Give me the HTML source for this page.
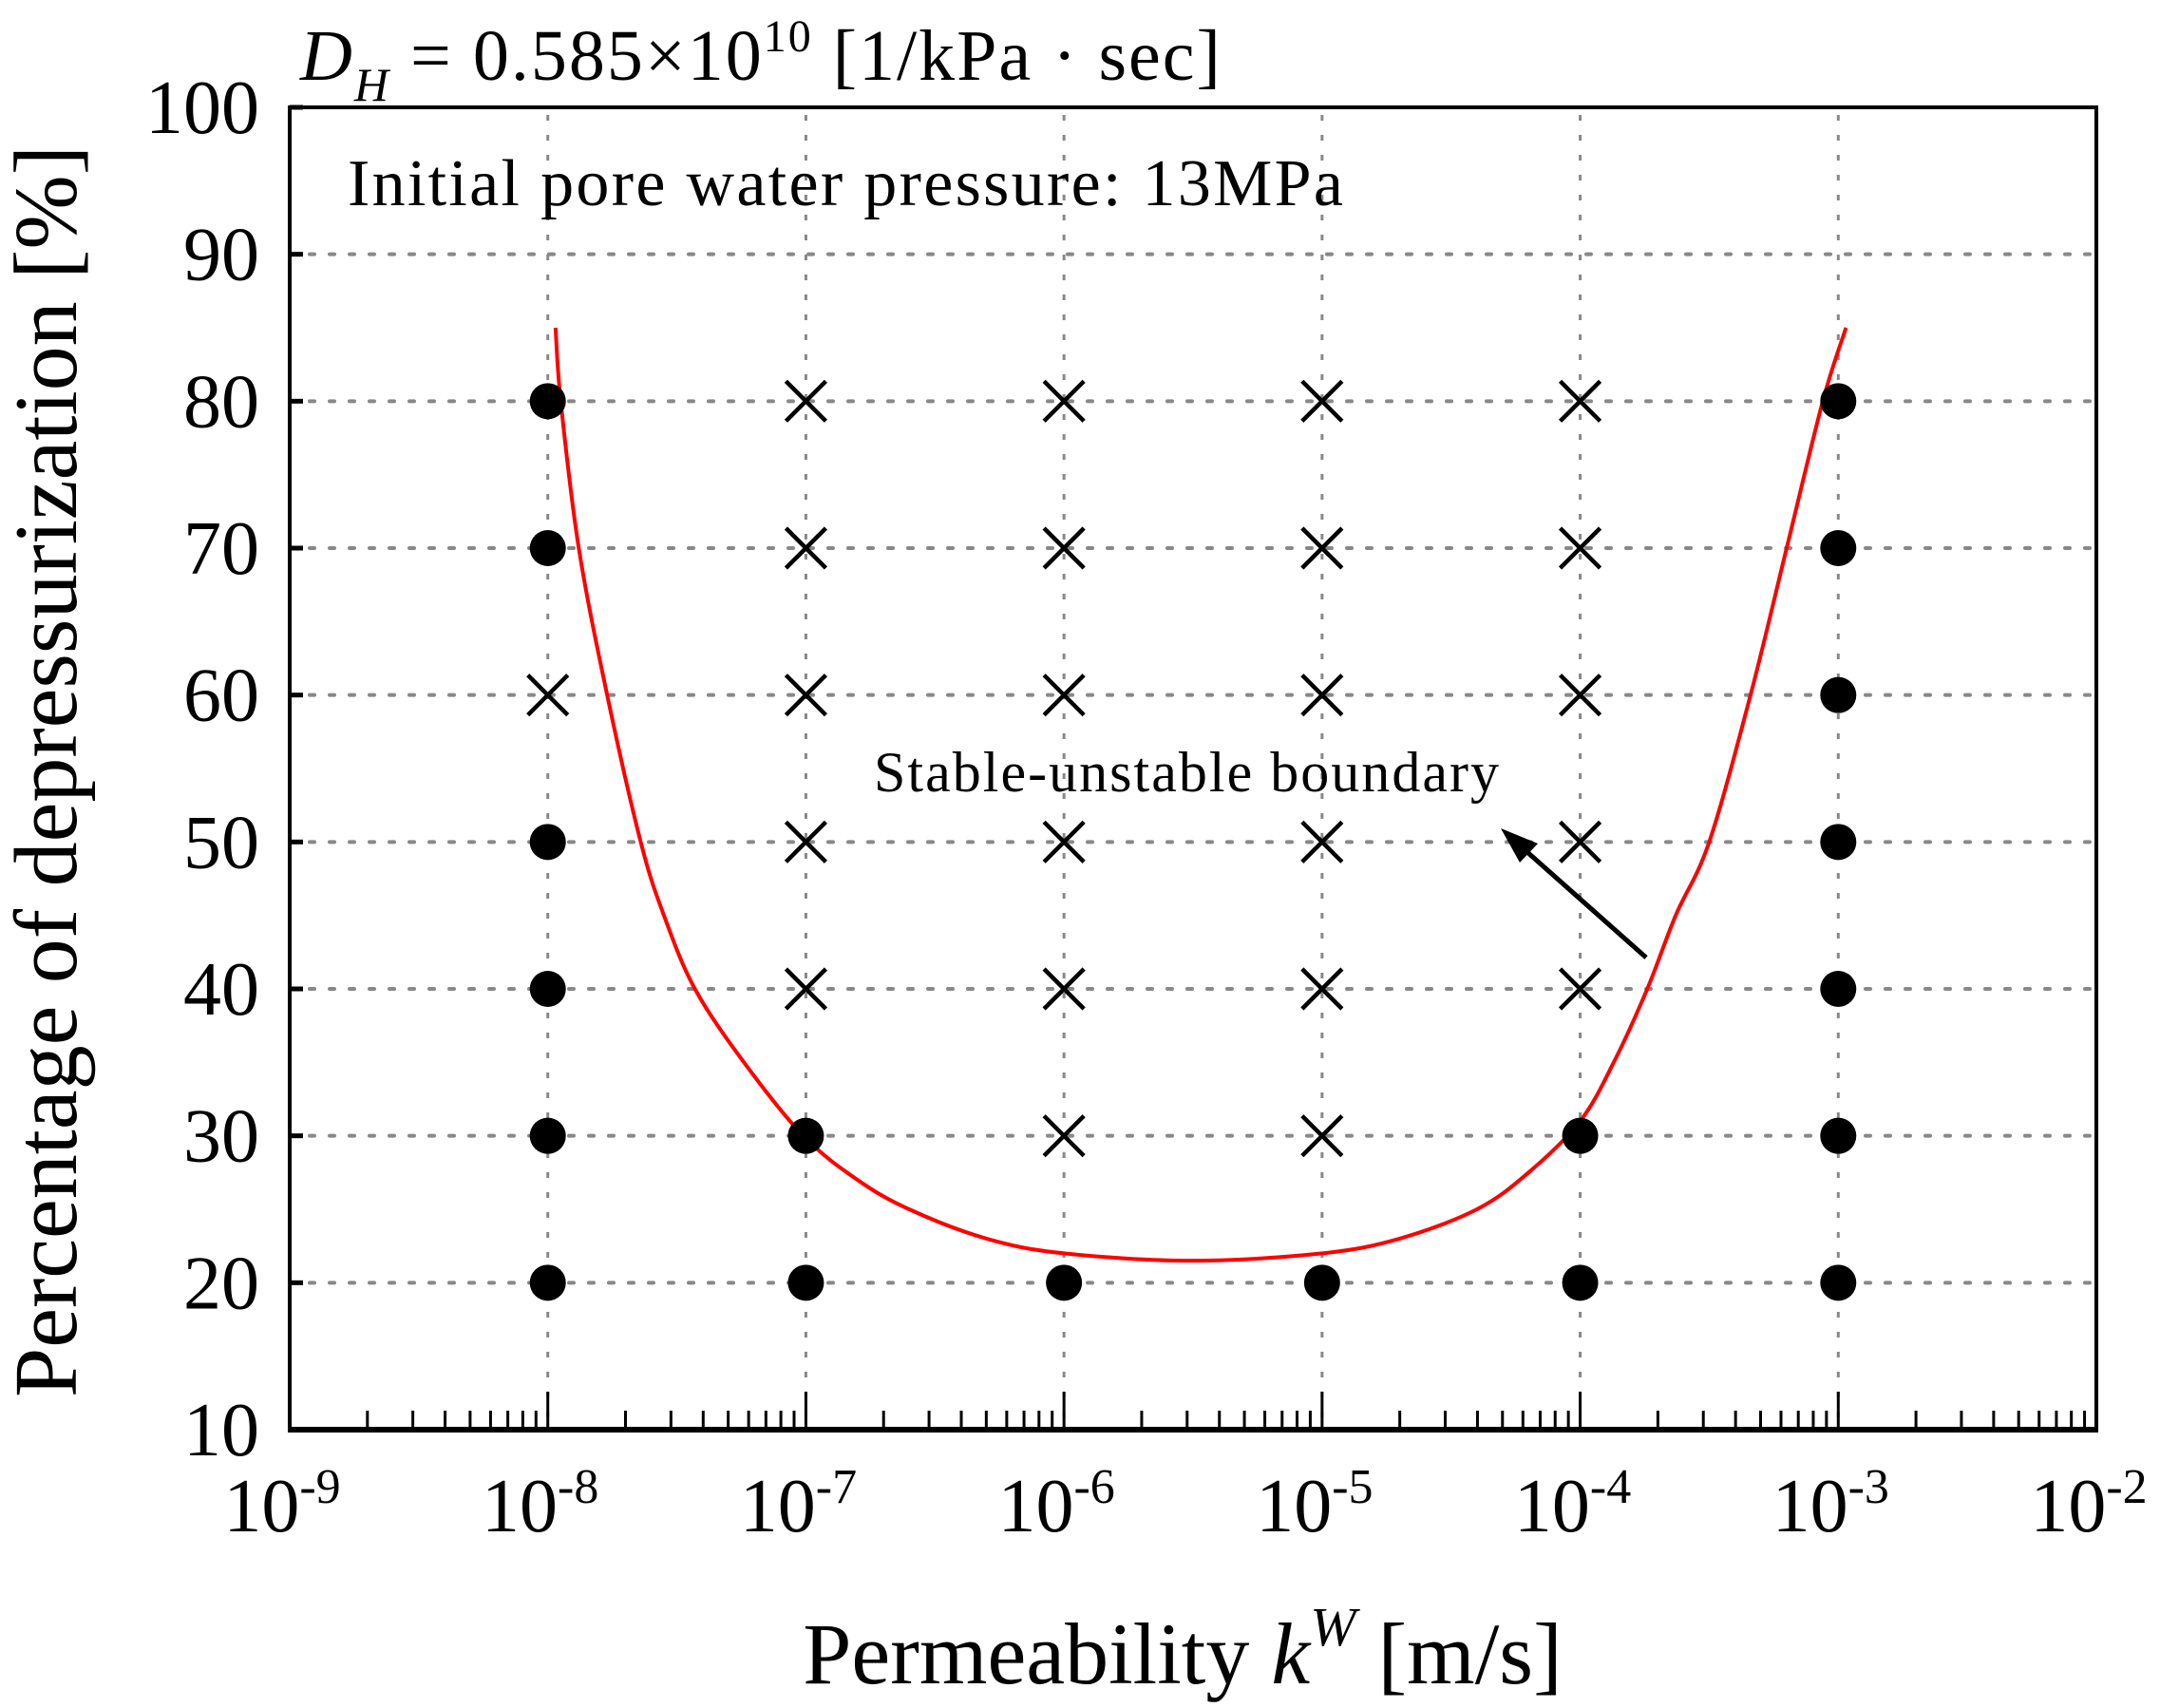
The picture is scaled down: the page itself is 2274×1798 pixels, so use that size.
<!DOCTYPE html>
<html><head><meta charset="utf-8"><style>
html,body{margin:0;padding:0;background:#fff}
svg{display:block}
text{font-family:"Liberation Serif",serif;fill:#000}
</style></head><body>
<svg id="chart" width="2274" height="1798" viewBox="0 0 2274 1798" xmlns="http://www.w3.org/2000/svg">
<g id="grid"></g>
<g id="curve"></g>
<g id="marks"></g>
<g id="axes"></g>
<text x="316" y="84" font-size="76" letter-spacing="2"><tspan font-style="italic">D</tspan><tspan font-style="italic" font-size="50" dy="22">H</tspan><tspan dy="-22"> = 0.585×10</tspan><tspan font-size="48" dy="-30">10</tspan><tspan dy="30"> [1/kPa · sec]</tspan></text>
<text x="366" y="216" font-size="70" textLength="1048">Initial pore water pressure: 13MPa</text>
<text x="920" y="833" font-size="60" textLength="658">Stable-unstable boundary</text>
<line x1="1733" y1="1008" x2="1600" y2="890" stroke="#000" stroke-width="5"/>
<polygon points="1580,872 1619,888 1600,908" fill="#000"/>
<text transform="translate(80,812) rotate(-90)" text-anchor="middle" font-size="94">Percentage of depressurization [%]</text>
<text x="1245" y="1772" text-anchor="middle" font-size="92">Permeability <tspan font-style="italic">k</tspan><tspan font-style="italic" font-size="58" dy="-40">W</tspan><tspan dy="40"> [m/s]</tspan></text>
</svg>
<script>
const decadeExps=[-9,-8,-7,-6,-5,-4,-3,-2];
const yTicks=[10,20,30,40,50,60,70,80,90,100];
const colExps=[-8,-7,-6,-5,-4,-3];
const rowVals=[80,70,60,50,40,30,20];
// 1 = stable (dot), 0 = unstable (cross); rows by rowVals, columns by colExps
const col1=[1,1,0,1,1,1,1];
const col2=[0,0,0,0,0,1,1];
const col3=[0,0,0,0,0,0,1];
const col4=[0,0,0,0,0,0,1];
const col5=[0,0,0,0,0,1,1];
const col6=[1,1,1,1,1,1,1];
const curveLogK=[-7.97,-7.95,-7.88,-7.77,-7.64,-7.55,-7.43,-7.24,-7.01,-6.8,-6.6,-6.3,-6.0,-5.5,-5.0,-4.7,-4.4,-4.2,-4.0,-3.87,-3.74,-3.63,-3.5,-3.34,-3.2,-3.06,-2.97];
const curveY=[85,80,70,60,50,45,40,35,30,27,25,23,22,21.5,22,23,25,27.5,31,35,40,45,50,60,70,80,85];
const L=305,R=2207,T=113,B=1505;
const xS=e=>L+(e+9)*(R-L)/7;
const yS=v=>B-(v-10)*(B-T)/90;
const NS='http://www.w3.org/2000/svg';
function mk(tag,attrs,parent){const el=document.createElementNS(NS,tag);for(const k in attrs)el.setAttribute(k,attrs[k]);parent.appendChild(el);return el;}
const grid=document.getElementById('grid'),axes=document.getElementById('axes'),marks=document.getElementById('marks'),curve=document.getElementById('curve');
colExps.forEach(e=>{const l=mk('line',{x1:xS(e),x2:xS(e),y1:T+8,y2:B,stroke:'#888','stroke-width':3,'stroke-dasharray':'6 15'},grid);

});
yTicks.slice(1,-1).forEach(v=>{const l=mk('line',{x1:L,x2:R,y1:yS(v),y2:yS(v),stroke:'#888','stroke-width':4,'stroke-dasharray':'5 16','stroke-linecap':'round'},grid);

});
const pts=curveLogK.map((e,i)=>[xS(e),yS(curveY[i])]);
let d='M'+pts[0][0]+','+pts[0][1];
for(let i=0;i<pts.length-1;i++){const p0=pts[Math.max(0,i-1)],p1=pts[i],p2=pts[i+1],p3=pts[Math.min(pts.length-1,i+2)];
d+=' C'+(p1[0]+(p2[0]-p0[0])/6)+','+(p1[1]+(p2[1]-p0[1])/6)+' '+(p2[0]-(p3[0]-p1[0])/6)+','+(p2[1]-(p3[1]-p1[1])/6)+' '+p2[0]+','+p2[1];}
const cp=mk('path',{d:d,fill:'none',stroke:'#ff0000','stroke-width':4},curve);


const cols=[col1,col2,col3,col4,col5,col6];
cols.forEach((c,ci)=>c.forEach((s,ri)=>{const x=xS(colExps[ci]),y=yS(rowVals[ri]);
if(s){const m=mk('circle',{cx:x,cy:y,r:19,fill:'#000'},marks);

}
else{const m=mk('path',{d:`M${x-21},${y-21}L${x+21},${y+21}M${x+21},${y-21}L${x-21},${y+21}`,stroke:'#000','stroke-width':4.5,fill:'none'},marks);

}}));
const fr=mk('rect',{x:L,y:T,width:R-L,height:B-T,fill:'none',stroke:'#000','stroke-width':4},axes);


mk('line',{x1:L-2,x2:R+2,y1:B,y2:B,stroke:'#000','stroke-width':6},axes);
yTicks.forEach(v=>{const y=yS(v);mk('line',{x1:L,x2:L+14,y1:y,y2:y,stroke:'#000','stroke-width':5},axes);
const t=mk('text',{x:273,y:y+27,'text-anchor':'end','font-size':80},axes);t.textContent=v;

});
decadeExps.forEach((e,i)=>{const x=xS(e);
mk('line',{x1:x,x2:x,y1:B,y2:B-40,stroke:'#000','stroke-width':3},axes);
if(i<decadeExps.length-1){for(let k=2;k<=9;k++){const xm=x+Math.log10(k)*(R-L)/7;mk('line',{x1:xm,x2:xm,y1:B,y2:B-20,stroke:'#000','stroke-width':3},axes);}}
const t=mk('text',{x:x-8,y:1612,'text-anchor':'middle','font-size':80},axes);


const a=document.createElementNS(NS,'tspan');a.textContent='10';t.appendChild(a);
const b=document.createElementNS(NS,'tspan');b.setAttribute('font-size','52');b.setAttribute('dy','-30');b.textContent='-'+(-e);t.appendChild(b);});
</script>
</body></html>
